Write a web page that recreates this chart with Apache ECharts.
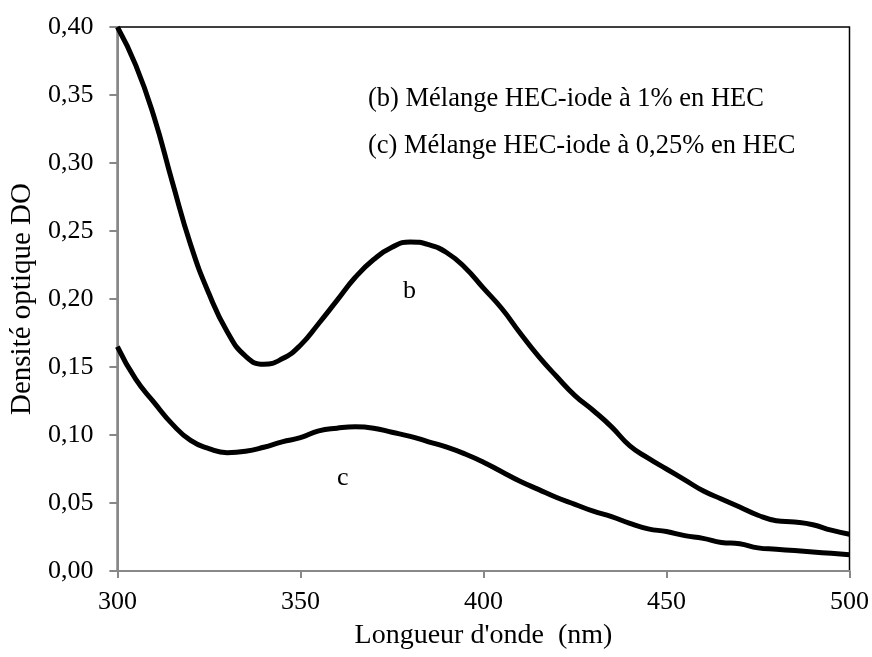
<!DOCTYPE html>
<html>
<head>
<meta charset="utf-8">
<script src="https://cdn.jsdelivr.net/npm/echarts@6/dist/echarts.min.js"></script>
<style>
    html, body { margin: 0; padding: 0; background: #fff; }
    #chart { width: 872px; height: 657px; }
</style>
</head>
<body>
<div id="chart"></div>
<script>
"use strict";
// longueurs d'onde (nm)
var lambda = [300, 305, 310, 315, 320, 325, 330, 335, 340, 345, 350, 355, 360, 365, 370, 375, 380, 385, 390, 395,
    400, 405, 410, 415, 420, 425, 430, 435, 440, 445, 450, 455, 460, 465, 470, 475, 480, 485, 490, 495, 500];
// (b) HEC-iode 1%
var doB = [0.400, 0.372, 0.334, 0.286, 0.240, 0.204, 0.176, 0.158, 0.152, 0.156, 0.166, 0.182, 0.199, 0.216, 0.229, 0.238, 0.242, 0.240, 0.234, 0.223,
    0.208, 0.193, 0.175, 0.158, 0.143, 0.129, 0.118, 0.106, 0.092, 0.083, 0.075, 0.067, 0.059, 0.053, 0.047, 0.041, 0.037, 0.036, 0.034, 0.030, 0.027];
// (c) HEC-iode 0,25%
var doC = [0.165, 0.141, 0.124, 0.108, 0.096, 0.090, 0.087, 0.088, 0.091, 0.095, 0.098, 0.103, 0.105, 0.106, 0.105, 0.102, 0.099, 0.095, 0.091, 0.086,
    0.080, 0.073, 0.066, 0.060, 0.054, 0.049, 0.044, 0.040, 0.035, 0.031, 0.029, 0.026, 0.024, 0.021, 0.020, 0.017, 0.016, 0.015, 0.014, 0.013, 0.012];
var legendLines = ["(b) Mélange HEC-iode à 1% en HEC", "(c) Mélange HEC-iode à 0,25% en HEC"];

var FONT = "'Liberation Serif', 'Times New Roman', serif";

function toPairs(xs, ys) {
    var out = [];
    for (let i = 0; i < xs.length; i++) {
        out.push([xs[i], ys[i]]);
    }
    return out
}

function initChart() {
    var myChart = echarts.init(document.getElementById('chart'));
    var option = {
        animation: false,
        textStyle: { fontFamily: FONT, color: '#000' },
        grid: {
            left: 115, right: 21, top: 27, bottom: 86,
            show: true, borderColor: '#000', borderWidth: 1.5
        },
        xAxis: {
            type: 'value',
            min: 300, max: 500, interval: 50,
            name: "Longueur d'onde  (nm)",
            nameLocation: 'middle',
            nameGap: 51,
            nameTextStyle: { fontFamily: FONT, fontSize: 28, color: '#000' },
            axisLine: { lineStyle: { color: '#888', width: 2 } },
            axisTick: { length: 7, lineStyle: { color: '#888', width: 2 } },
            axisLabel: { margin: 18, fontFamily: FONT, fontSize: 26, color: '#000' },
            splitLine: { show: false }
        },
        yAxis: {
            type: 'value',
            min: 0, max: 0.4, interval: 0.05,
            name: 'Densité optique DO',
            nameLocation: 'middle',
            nameGap: 76,
            nameTextStyle: { fontFamily: FONT, fontSize: 29, color: '#000' },
            axisLine: { show: true, lineStyle: { color: '#888', width: 2 } },
            axisTick: { show: true, length: 8, lineStyle: { color: '#888', width: 2 } },
            axisLabel: {
                margin: 24, fontFamily: FONT, fontSize: 26, color: '#000',
                formatter: (v) => { return v.toFixed(2).replace('.', ','); }
            },
            splitLine: { show: false }
        },
        series: [
            {
                type: 'line', name: 'b', data: toPairs(lambda, doB),
                smooth: true, showSymbol: false,
                lineStyle: { color: '#000', width: 5 }
            },
            {
                type: 'line', name: 'c', data: toPairs(lambda, doC),
                smooth: true, showSymbol: false,
                lineStyle: { color: '#000', width: 5 }
            }
        ],
        graphic: [
            { type: 'text', left: 368, top: 86, style: { text: legendLines[0], font: '26.5px ' + FONT, fill: '#000' } },
            { type: 'text', left: 368, top: 133, style: { text: legendLines[1], font: '26.5px ' + FONT, fill: '#000' } },
            { type: 'text', left: 403, top: 278, style: { text: 'b', font: '26px ' + FONT, fill: '#000' } },
            { type: 'text', left: 337, top: 465, style: { text: 'c', font: '26px ' + FONT, fill: '#000' } }
        ]
    };
    myChart.setOption(option);
    return myChart
}

initChart();
</script>
</body>
</html>
